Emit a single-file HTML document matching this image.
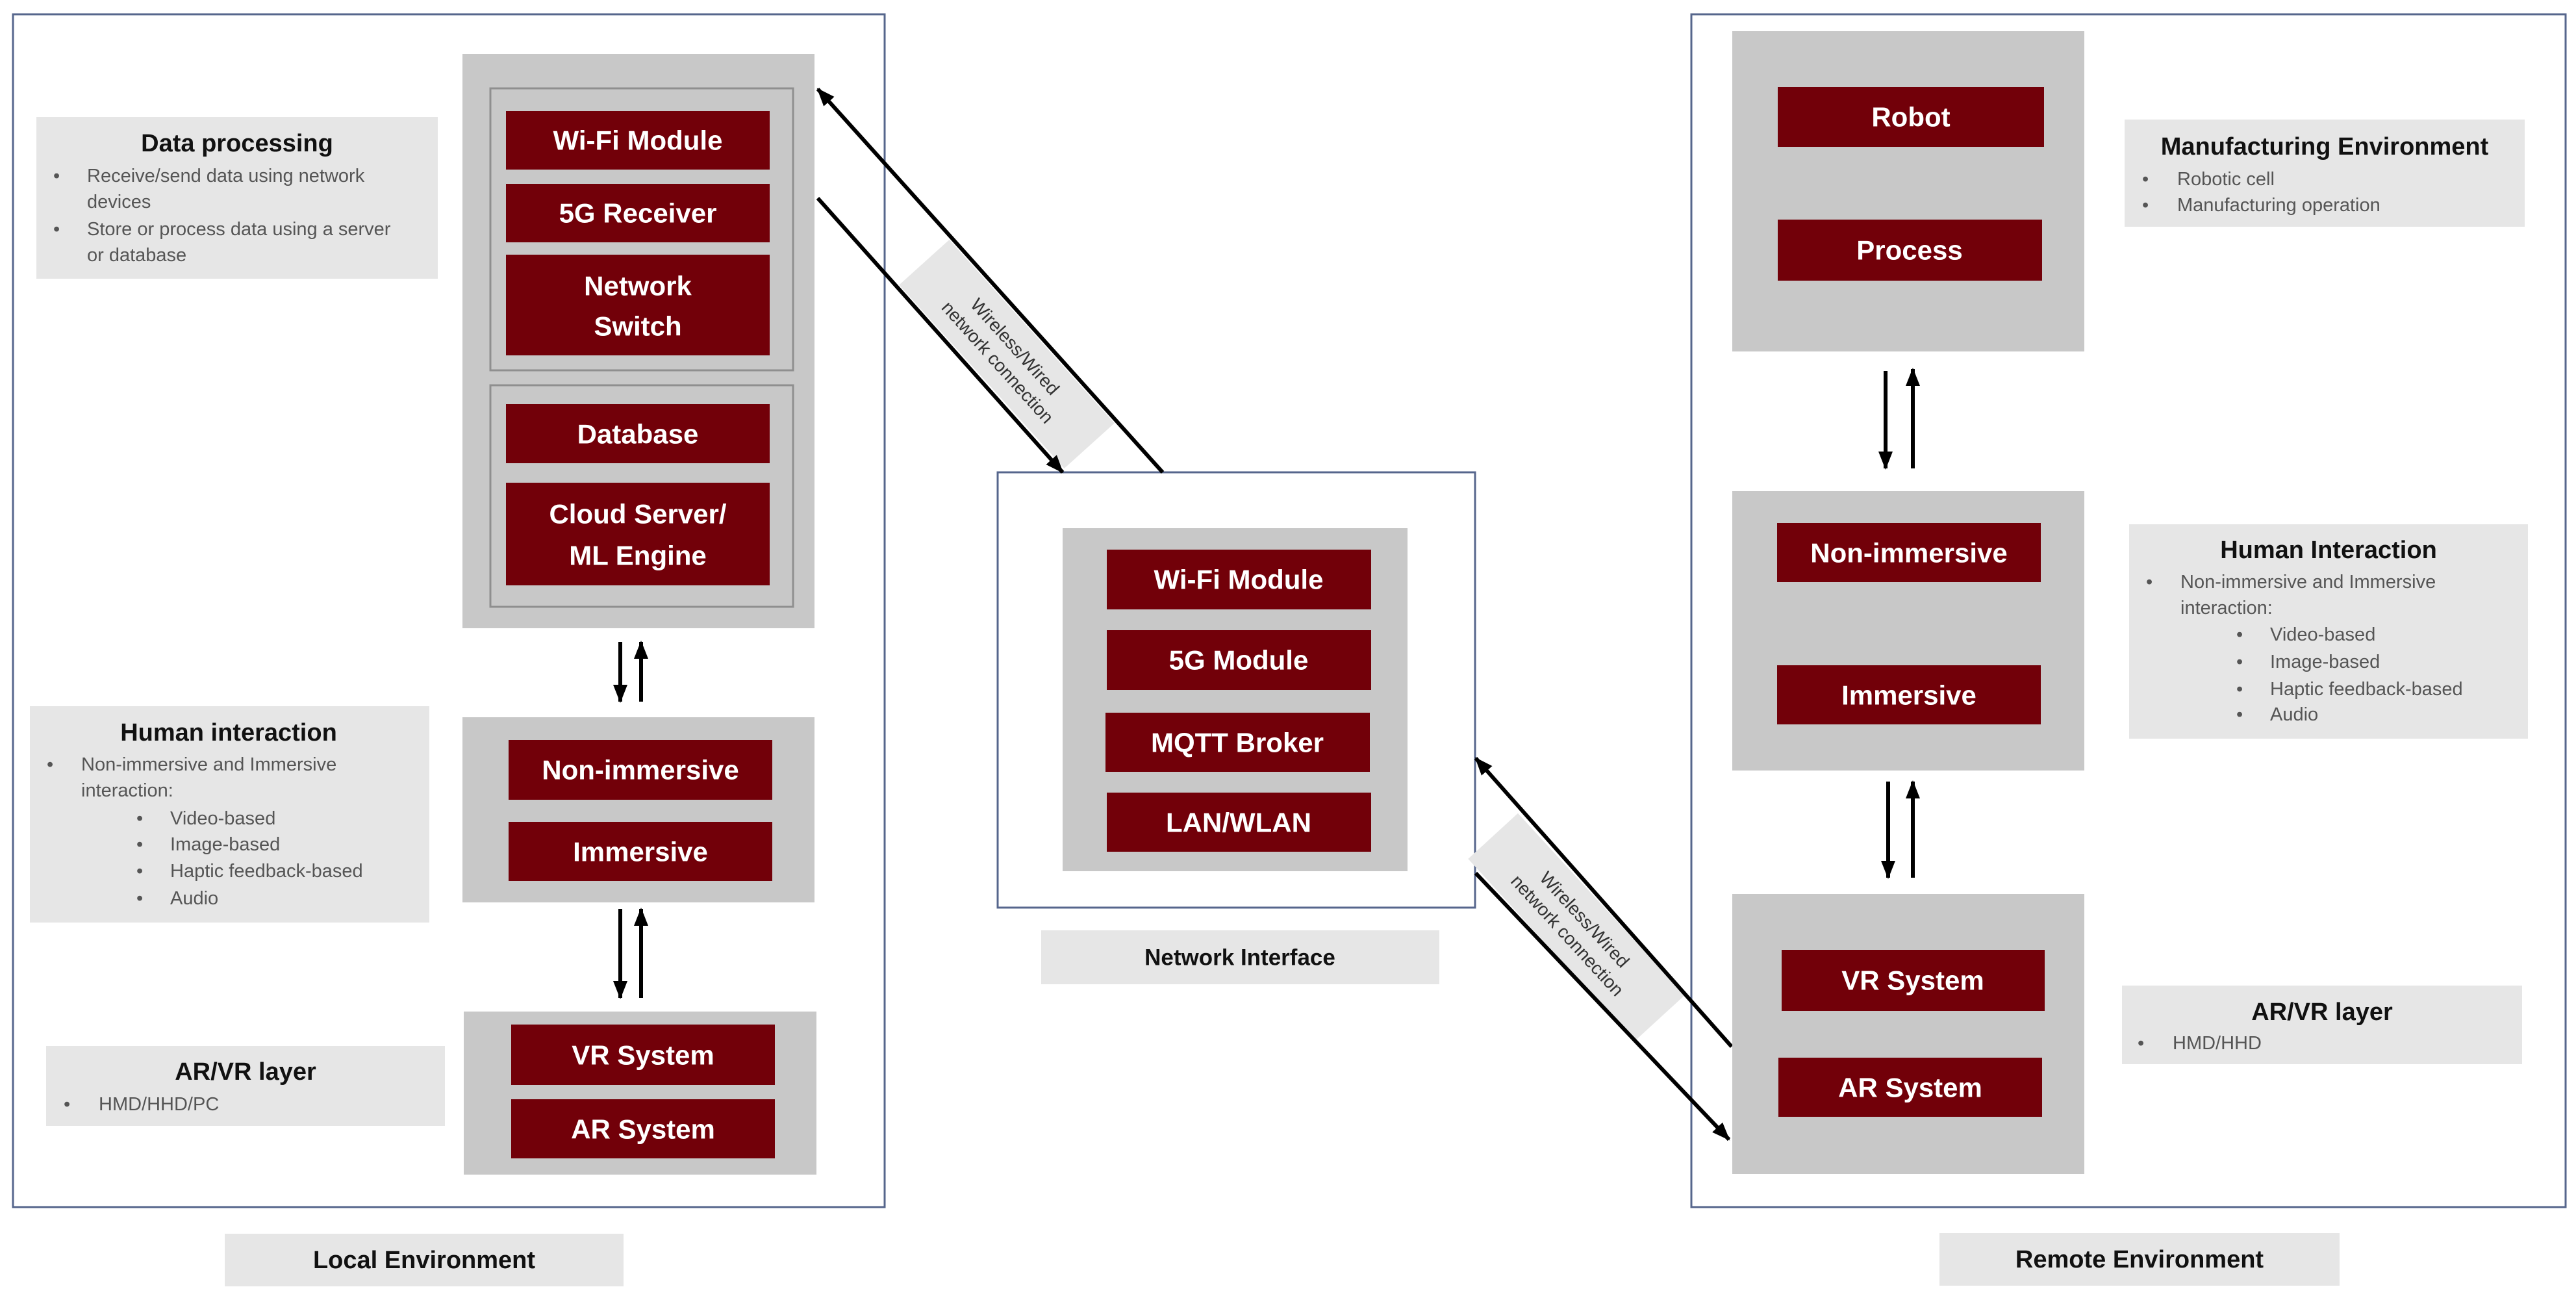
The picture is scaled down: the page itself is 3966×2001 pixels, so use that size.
<!DOCTYPE html>
<html><head><meta charset="utf-8"><style>
html,body{margin:0;padding:0;background:#fff;}
svg{display:block;}
text{font-family:"Liberation Sans",Arial,sans-serif;}
.m{fill:#720009;}
.mt{fill:#fff;font-weight:bold;font-size:42px;text-anchor:middle;dominant-baseline:central;}
.p{fill:#c8c8c8;}
.lb{fill:#e6e6e6;}
.h{fill:#111;font-weight:bold;font-size:38px;text-anchor:middle;dominant-baseline:central;}
.b{fill:#555;font-size:29px;dominant-baseline:central;}
.ar{stroke:#000;stroke-width:6;fill:none;}
.ob{fill:none;stroke:#56668c;stroke-width:3;}
.dl{fill:#333;font-size:28px;text-anchor:middle;dominant-baseline:central;}
</style></head><body>
<svg width="3966" height="2001" viewBox="0 0 3966 2001" xmlns="http://www.w3.org/2000/svg">
<defs>
<marker id="ah" markerUnits="userSpaceOnUse" markerWidth="30" markerHeight="26" refX="26" refY="13" orient="auto">
<path d="M0,2 L28,13 L0,24 z" fill="#000"/>
</marker>
</defs>

<rect class="ob" x="20" y="22" width="1342" height="1836"/>
<rect class="ob" x="2604" y="22" width="1346" height="1836"/>
<rect class="ob" x="1536" y="727" width="735" height="670"/>

<rect class="p" x="712" y="83" width="542" height="884"/>
<rect x="755" y="136" width="466" height="434" fill="#c8c8c8" stroke="#8f8f8f" stroke-width="3"/>
<rect x="755" y="593" width="466" height="341" fill="#c8c8c8" stroke="#8f8f8f" stroke-width="3"/>
<rect class="m" x="779" y="171" width="406" height="90"/><text class="mt" x="982" y="216">Wi-Fi Module</text>
<rect class="m" x="779" y="283" width="406" height="90"/><text class="mt" x="982" y="328">5G Receiver</text>
<rect class="m" x="779" y="392" width="406" height="155"/><text class="mt" x="982" y="440">Network</text><text class="mt" x="982" y="502">Switch</text>
<rect class="m" x="779" y="622" width="406" height="91"/><text class="mt" x="982" y="668">Database</text>
<rect class="m" x="779" y="743" width="406" height="158"/><text class="mt" x="982" y="791">Cloud Server/</text><text class="mt" x="982" y="855">ML Engine</text>

<line class="ar" x1="955" y1="988" x2="955" y2="1080" marker-end="url(#ah)"/>
<line class="ar" x1="987" y1="1080" x2="987" y2="988" marker-end="url(#ah)"/>

<rect class="p" x="712" y="1104" width="542" height="285"/>
<rect class="m" x="783" y="1139" width="406" height="92"/><text class="mt" x="986" y="1185">Non-immersive</text>
<rect class="m" x="783" y="1265" width="406" height="91"/><text class="mt" x="986" y="1311">Immersive</text>

<line class="ar" x1="955" y1="1399" x2="955" y2="1536" marker-end="url(#ah)"/>
<line class="ar" x1="987" y1="1536" x2="987" y2="1399" marker-end="url(#ah)"/>

<rect class="p" x="714" y="1557" width="543" height="251"/>
<rect class="m" x="787" y="1577" width="406" height="93"/><text class="mt" x="990" y="1624">VR System</text>
<rect class="m" x="787" y="1692" width="406" height="91"/><text class="mt" x="990" y="1738">AR System</text>

<rect class="lb" x="56" y="180" width="618" height="249"/>
<text class="h" x="365" y="221">Data processing</text>
<text class="b" x="82" y="271">•</text><text class="b" x="134" y="271">Receive/send data using network</text>
<text class="b" x="134" y="311">devices</text>
<text class="b" x="82" y="353">•</text><text class="b" x="134" y="353">Store or process data using a server</text>
<text class="b" x="134" y="393">or database</text>

<rect class="lb" x="46" y="1087" width="615" height="333"/>
<text class="h" x="352" y="1128">Human interaction</text>
<text class="b" x="72" y="1177">•</text><text class="b" x="125" y="1177">Non-immersive and Immersive</text>
<text class="b" x="125" y="1217">interaction:</text>
<text class="b" x="210" y="1260">•</text><text class="b" x="262" y="1260">Video-based</text>
<text class="b" x="210" y="1300">•</text><text class="b" x="262" y="1300">Image-based</text>
<text class="b" x="210" y="1341">•</text><text class="b" x="262" y="1341">Haptic feedback-based</text>
<text class="b" x="210" y="1383">•</text><text class="b" x="262" y="1383">Audio</text>

<rect class="lb" x="71" y="1610" width="614" height="123"/>
<text class="h" x="378" y="1650">AR/VR layer</text>
<text class="b" x="98" y="1700">•</text><text class="b" x="152" y="1700">HMD/HHD/PC</text>

<rect class="lb" x="346" y="1899" width="614" height="81"/>
<text class="h" x="653" y="1940">Local Environment</text>

<rect class="p" x="1636" y="813" width="531" height="528"/>
<rect class="m" x="1704" y="846" width="407" height="92"/><text class="mt" x="1907" y="892">Wi-Fi Module</text>
<rect class="m" x="1704" y="970" width="407" height="92"/><text class="mt" x="1907" y="1016">5G Module</text>
<rect class="m" x="1702" y="1097" width="407" height="91"/><text class="mt" x="1905" y="1143">MQTT Broker</text>
<rect class="m" x="1704" y="1220" width="407" height="91"/><text class="mt" x="1907" y="1266">LAN/WLAN</text>

<rect class="lb" x="1603" y="1432" width="613" height="83"/>
<text class="h" x="1909" y="1474" style="font-size:35px">Network Interface</text>

<g transform="translate(1550,545) rotate(48)">
<rect class="lb" x="-190" y="-52" width="380" height="104"/>
<text class="dl" x="0" y="-17">Wireless/Wired</text>
<text class="dl" x="0" y="19">network connection</text>
</g>
<line class="ar" x1="1790" y1="727" x2="1259" y2="137" marker-end="url(#ah)"/>
<line class="ar" x1="1259" y1="305" x2="1636" y2="727" marker-end="url(#ah)"/>

<g transform="translate(2427,1427) rotate(47.5)">
<rect class="lb" x="-190" y="-52" width="380" height="104"/>
<text class="dl" x="0" y="-17">Wireless/Wired</text>
<text class="dl" x="0" y="19">network connection</text>
</g>
<line class="ar" x1="2666" y1="1611" x2="2272" y2="1167" marker-end="url(#ah)"/>
<line class="ar" x1="2272" y1="1344" x2="2662" y2="1754" marker-end="url(#ah)"/>

<rect class="p" x="2667" y="48" width="542" height="493"/>
<rect class="m" x="2737" y="134" width="410" height="92"/><text class="mt" x="2942" y="180">Robot</text>
<rect class="m" x="2737" y="338" width="407" height="94"/><text class="mt" x="2940" y="385">Process</text>

<line class="ar" x1="2903" y1="571" x2="2903" y2="721" marker-end="url(#ah)"/>
<line class="ar" x1="2945" y1="721" x2="2945" y2="568" marker-end="url(#ah)"/>

<rect class="p" x="2667" y="756" width="542" height="430"/>
<rect class="m" x="2736" y="805" width="406" height="91"/><text class="mt" x="2939" y="851">Non-immersive</text>
<rect class="m" x="2736" y="1024" width="406" height="91"/><text class="mt" x="2939" y="1070">Immersive</text>

<line class="ar" x1="2907" y1="1203" x2="2907" y2="1351" marker-end="url(#ah)"/>
<line class="ar" x1="2945" y1="1351" x2="2945" y2="1203" marker-end="url(#ah)"/>

<rect class="p" x="2667" y="1376" width="542" height="431"/>
<rect class="m" x="2743" y="1462" width="405" height="94"/><text class="mt" x="2945" y="1509">VR System</text>
<rect class="m" x="2738" y="1628" width="406" height="91"/><text class="mt" x="2941" y="1674">AR System</text>

<rect class="lb" x="3271" y="184" width="616" height="165"/>
<text class="h" x="3579" y="226">Manufacturing Environment</text>
<text class="b" x="3298" y="276">•</text><text class="b" x="3352" y="276">Robotic cell</text>
<text class="b" x="3298" y="316">•</text><text class="b" x="3352" y="316">Manufacturing operation</text>

<rect class="lb" x="3278" y="807" width="614" height="330"/>
<text class="h" x="3585" y="847">Human Interaction</text>
<text class="b" x="3304" y="896">•</text><text class="b" x="3357" y="896">Non-immersive and Immersive</text>
<text class="b" x="3357" y="936">interaction:</text>
<text class="b" x="3443" y="977">•</text><text class="b" x="3495" y="977">Video-based</text>
<text class="b" x="3443" y="1019">•</text><text class="b" x="3495" y="1019">Image-based</text>
<text class="b" x="3443" y="1061">•</text><text class="b" x="3495" y="1061">Haptic feedback-based</text>
<text class="b" x="3443" y="1100">•</text><text class="b" x="3495" y="1100">Audio</text>

<rect class="lb" x="3267" y="1517" width="616" height="121"/>
<text class="h" x="3575" y="1558">AR/VR layer</text>
<text class="b" x="3291" y="1606">•</text><text class="b" x="3345" y="1606">HMD/HHD</text>

<rect class="lb" x="2986" y="1898" width="616" height="81"/>
<text class="h" x="3294" y="1939">Remote Environment</text>
</svg>
</body></html>
